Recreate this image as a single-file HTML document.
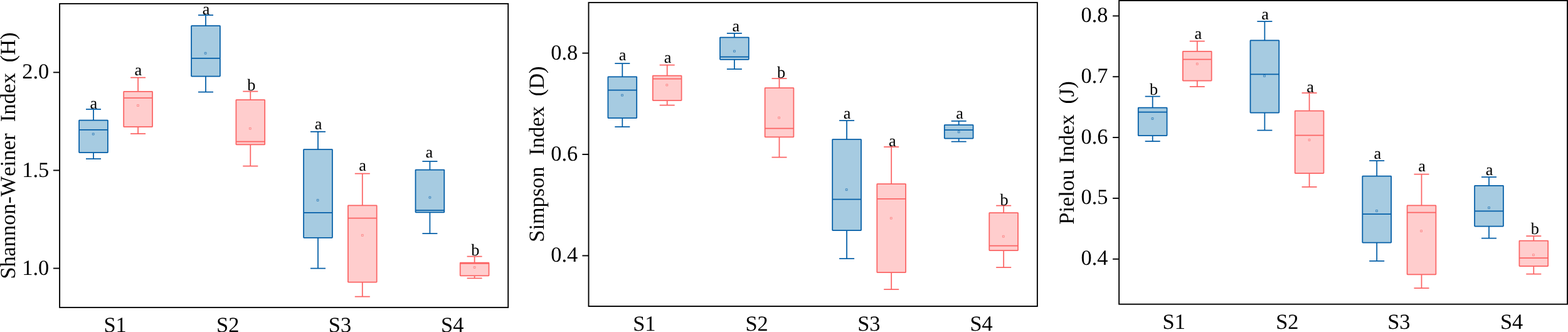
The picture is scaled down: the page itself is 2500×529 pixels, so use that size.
<!DOCTYPE html>
<html lang="en">
<head>
<meta charset="utf-8">
<title>Diversity indices box plots</title>
<style>
html,body{margin:0;padding:0;background:#fff;}
body{width:2500px;height:529px;overflow:hidden;}
svg{display:block;font-family:"Liberation Serif",serif;fill:#000;text-rendering:geometricPrecision;}
.tk{font-size:34.4px;}
.lb{font-size:34.3px;font-kerning:none;}
.an{font-size:26.3px;text-anchor:middle;}
path,rect{stroke-linejoin:round;}
.fr{fill:none;stroke-linejoin:miter;stroke:#000;stroke-width:1.9;}
.b{stroke:#035ea7;stroke-width:1.75;fill:none;}
.bf{stroke:#035ea7;stroke-width:1.75;fill:#a6cbe1;}
.r{stroke:#fb6464;stroke-width:1.75;fill:none;}
.rf{stroke:#fb6464;stroke-width:1.75;fill:#ffcdcd;}
.bm{stroke:#035ea7;stroke-width:0.6;fill:none;}
.rm{stroke:#fb6464;stroke-width:0.6;fill:none;}
</style>
</head>
<body>
<svg width="2500" height="529" viewBox="0 0 2500 529">
<rect x="0" y="0" width="2500" height="529" fill="#fff" stroke="none"/>

<g id="panel1">
<path class="b" d="M149 174.1V191.7M149 243V253M137 174.1H161M137 253H161"/>
<rect class="bf" x="126.1" y="191.7" width="45.8" height="51.3" rx="0.6"/>
<path class="b" d="M126.1 206.8H171.9"/>
<rect class="bm" x="147.3" y="212.2" width="2.8" height="2.8"/>
<text class="an" x="149.3" y="172.5">a</text>
<path class="r" d="M220.1 123.6V145.8M220.1 202.2V213M208.1 123.6H232.1M208.1 213H232.1"/>
<rect class="rf" x="197.2" y="145.8" width="45.8" height="56.4" rx="0.6"/>
<path class="r" d="M197.2 156.2H243"/>
<rect class="rm" x="218.6" y="166.7" width="2.8" height="2.8"/>
<text class="an" x="220.4" y="120.1">a</text>
<path class="b" d="M328 24V41M328 121.6V146.7M316 24H340M316 146.7H340"/>
<rect class="bf" x="305.1" y="41" width="45.8" height="80.6" rx="0.6"/>
<path class="b" d="M305.1 92.8H350.9"/>
<rect class="bm" x="326.2" y="83.4" width="2.8" height="2.8"/>
<text class="an" x="328.7" y="22.5">a</text>
<path class="r" d="M399.3 145.5V159.1M399.3 230.4V264.5M387.3 145.5H411.3M387.3 264.5H411.3"/>
<rect class="rf" x="376.4" y="159.1" width="45.8" height="71.3" rx="0.6"/>
<path class="r" d="M376.4 225.6H422.2"/>
<rect class="rm" x="397.4" y="203.4" width="2.8" height="2.8"/>
<text class="an" x="400.8" y="143.5">b</text>
<path class="b" d="M507 209.8V238M507 378.8V427.5M495 209.8H519M495 427.5H519"/>
<rect class="bf" x="484.1" y="238" width="45.8" height="140.8" rx="0.6"/>
<path class="b" d="M484.1 338.9H529.9"/>
<rect class="bm" x="505.2" y="317.6" width="2.8" height="2.8"/>
<text class="an" x="507.6" y="206.1">a</text>
<path class="r" d="M577.8 276.7V327.4M577.8 449.5V472.7M565.8 276.7H589.8M565.8 472.7H589.8"/>
<rect class="rf" x="554.9" y="327.4" width="45.8" height="122.1" rx="0.6"/>
<path class="r" d="M554.9 347.7H600.7"/>
<rect class="rm" x="576.4" y="373.5" width="2.8" height="2.8"/>
<text class="an" x="578.2" y="271.6">a</text>
<path class="b" d="M685.4 257.1V270.5M685.4 338.4V372.1M673.4 257.1H697.4M673.4 372.1H697.4"/>
<rect class="bf" x="662.5" y="270.5" width="45.8" height="67.9" rx="0.6"/>
<path class="b" d="M662.5 335.1H708.3"/>
<rect class="bm" x="684" y="313.2" width="2.8" height="2.8"/>
<text class="an" x="684.4" y="250.5">a</text>
<path class="r" d="M756.6 408.6V418.5M756.6 439.4V443.4M744.6 408.6H768.6M744.6 443.4H768.6"/>
<rect class="rf" x="733.7" y="418.5" width="45.8" height="20.9" rx="0.6"/>
<path class="r" d="M733.7 419.9H779.5"/>
<rect class="rm" x="755.2" y="424.6" width="2.8" height="2.8"/>
<text class="an" x="757.9" y="407.2">b</text>
<rect class="fr" x="95.1" y="5.9" width="715.1" height="484"/>
<path class="fr" d="M85 115.35H95.1"/>
<text class="tk" text-anchor="end" x="78.3" y="125.45">2.0</text>
<path class="fr" d="M85 271.45H95.1"/>
<text class="tk" text-anchor="end" x="78.3" y="281.55">1.5</text>
<path class="fr" d="M85 427.55H95.1"/>
<text class="tk" text-anchor="end" x="78.3" y="437.65">1.0</text>
<text class="tk" text-anchor="middle" x="183.6" y="528.7">S1</text>
<text class="tk" text-anchor="middle" x="363.2" y="528.7">S2</text>
<text class="tk" text-anchor="middle" x="542" y="528.7">S3</text>
<text class="tk" text-anchor="middle" x="721.2" y="528.7">S4</text>
<text class="lb" text-anchor="middle" transform="translate(24 248.1) rotate(-90)">Shannon-Weiner <tspan dx="9.5">Index</tspan> <tspan dx="8.3">(H)</tspan></text>
</g>
<g id="panel2">
<path class="b" d="M992.3 101.2V122.4M992.3 188.2V202.2M980.3 101.2H1004.3M980.3 202.2H1004.3"/>
<rect class="bf" x="969.4" y="122.4" width="45.8" height="65.8" rx="0.6"/>
<path class="b" d="M969.4 143.5H1015.2"/>
<rect class="bm" x="990.6" y="150.3" width="2.8" height="2.8"/>
<text class="an" x="992.5" y="95.9">a</text>
<path class="r" d="M1063.7 103.6V120.6M1063.7 160.1V167.5M1051.7 103.6H1075.7M1051.7 167.5H1075.7"/>
<rect class="rf" x="1040.8" y="120.6" width="45.8" height="39.5" rx="0.6"/>
<path class="r" d="M1040.8 125.6H1086.6"/>
<rect class="rm" x="1061.9" y="134.1" width="2.8" height="2.8"/>
<text class="an" x="1064.5" y="100.1">a</text>
<path class="b" d="M1170.9 53.1V59.5M1170.9 94.8V110M1158.9 53.1H1182.9M1158.9 110H1182.9"/>
<rect class="bf" x="1148" y="59.5" width="45.8" height="35.3" rx="0.6"/>
<path class="b" d="M1148 90.6H1193.8"/>
<rect class="bm" x="1169.5" y="80.2" width="2.8" height="2.8"/>
<text class="an" x="1173.3" y="49.6">a</text>
<path class="r" d="M1242.5 125V140.1M1242.5 218.4V250.7M1230.5 125H1254.5M1230.5 250.7H1254.5"/>
<rect class="rf" x="1219.6" y="140.1" width="45.8" height="78.3" rx="0.6"/>
<path class="r" d="M1219.6 204.6H1265.4"/>
<rect class="rm" x="1240.7" y="186.2" width="2.8" height="2.8"/>
<text class="an" x="1245.5" y="124.1">b</text>
<path class="b" d="M1350.1 192.2V222M1350.1 367.1V412.2M1338.1 192.2H1362.1M1338.1 412.2H1362.1"/>
<rect class="bf" x="1327.2" y="222" width="45.8" height="145.1" rx="0.6"/>
<path class="b" d="M1327.2 317.5H1373"/>
<rect class="bm" x="1348.3" y="300.8" width="2.8" height="2.8"/>
<text class="an" x="1350.7" y="189.3">a</text>
<path class="r" d="M1421.2 234V293.2M1421.2 434V461.1M1409.2 234H1433.2M1409.2 461.1H1433.2"/>
<rect class="rf" x="1398.3" y="293.2" width="45.8" height="140.8" rx="0.6"/>
<path class="r" d="M1398.3 316.8H1444.1"/>
<rect class="rm" x="1419.4" y="346.3" width="2.8" height="2.8"/>
<text class="an" x="1422.8" y="232.5">a</text>
<path class="b" d="M1528.7 192.8V199.2M1528.7 220.6V225.6M1516.7 192.8H1540.7M1516.7 225.6H1540.7"/>
<rect class="bf" x="1505.8" y="199.2" width="45.8" height="21.4" rx="0.6"/>
<path class="b" d="M1505.8 207H1551.6"/>
<rect class="bm" x="1527.3" y="208.8" width="2.8" height="2.8"/>
<text class="an" x="1530" y="188.9">a</text>
<path class="r" d="M1600.2 327.6V339M1600.2 399.2V426M1588.2 327.6H1612.2M1588.2 426H1612.2"/>
<rect class="rf" x="1577.3" y="339" width="45.8" height="60.2" rx="0.6"/>
<path class="r" d="M1577.3 391.7H1623.1"/>
<rect class="rm" x="1598.4" y="375.3" width="2.8" height="2.8"/>
<text class="an" x="1601.2" y="326.5">b</text>
<rect class="fr" x="938.5" y="4.1" width="715.4" height="483.9"/>
<path class="fr" d="M928.4 84.65H938.5"/>
<text class="tk" text-anchor="end" x="921.2" y="94.6">0.8</text>
<path class="fr" d="M928.4 246H938.5"/>
<text class="tk" text-anchor="end" x="921.2" y="256.15">0.6</text>
<path class="fr" d="M928.4 407.4H938.5"/>
<text class="tk" text-anchor="end" x="921.2" y="416.95">0.4</text>
<text class="tk" text-anchor="middle" x="1027.3" y="526.6">S1</text>
<text class="tk" text-anchor="middle" x="1206.6" y="526.6">S2</text>
<text class="tk" text-anchor="middle" x="1385.3" y="526.6">S3</text>
<text class="tk" text-anchor="middle" x="1564.6" y="526.6">S4</text>
<text class="lb" text-anchor="middle" transform="translate(867.3 245.6) rotate(-90)">Simpson <tspan dx="9.5">Index</tspan> <tspan dx="7.7">(D)</tspan></text>
</g>
<g id="panel3">
<path class="b" d="M1837.7 153.5V171.7M1837.7 216V225M1825.7 153.5H1849.7M1825.7 225H1849.7"/>
<rect class="bf" x="1814.8" y="171.7" width="45.8" height="44.3" rx="0.6"/>
<path class="b" d="M1814.8 178.5H1860.6"/>
<rect class="bm" x="1836.1" y="187.6" width="2.8" height="2.8"/>
<text class="an" x="1839.7" y="151.4">b</text>
<path class="r" d="M1908.8 65.7V81.8M1908.8 128.6V138M1896.8 65.7H1920.8M1896.8 138H1920.8"/>
<rect class="rf" x="1885.9" y="81.8" width="45.8" height="46.8" rx="0.6"/>
<path class="r" d="M1885.9 94.6H1931.7"/>
<rect class="rm" x="1907.4" y="100.4" width="2.8" height="2.8"/>
<text class="an" x="1910.4" y="62.2">a</text>
<path class="b" d="M2016.4 34.1V64.3M2016.4 179.7V207.6M2004.4 34.1H2028.4M2004.4 207.6H2028.4"/>
<rect class="bf" x="1993.5" y="64.3" width="45.8" height="115.4" rx="0.6"/>
<path class="b" d="M1993.5 118.4H2039.3"/>
<rect class="bm" x="2014.6" y="119.6" width="2.8" height="2.8"/>
<text class="an" x="2017" y="31">a</text>
<path class="r" d="M2087.6 148.1V176.7M2087.6 276.1V297.8M2075.6 148.1H2099.6M2075.6 297.8H2099.6"/>
<rect class="rf" x="2064.7" y="176.7" width="45.8" height="99.4" rx="0.6"/>
<path class="r" d="M2064.7 215.6H2110.5"/>
<rect class="rm" x="2086.2" y="221.6" width="2.8" height="2.8"/>
<text class="an" x="2089.2" y="147.2">a</text>
<path class="b" d="M2195.2 256.1V280.7M2195.2 386.5V415.8M2183.2 256.1H2207.2M2183.2 415.8H2207.2"/>
<rect class="bf" x="2172.3" y="280.7" width="45.8" height="105.8" rx="0.6"/>
<path class="b" d="M2172.3 341H2218.1"/>
<rect class="bm" x="2193.6" y="334.6" width="2.8" height="2.8"/>
<text class="an" x="2196.4" y="252.5">a</text>
<path class="r" d="M2266.5 277.5V327.4M2266.5 437.4V459M2254.5 277.5H2278.5M2254.5 459H2278.5"/>
<rect class="rf" x="2243.6" y="327.4" width="45.8" height="110" rx="0.6"/>
<path class="r" d="M2243.6 338.6H2289.4"/>
<rect class="rm" x="2264.7" y="366.7" width="2.8" height="2.8"/>
<text class="an" x="2267.1" y="273.2">a</text>
<path class="b" d="M2374 282.1V295.8M2374 360.5V379.7M2362 282.1H2386M2362 379.7H2386"/>
<rect class="bf" x="2351.1" y="295.8" width="45.8" height="64.7" rx="0.6"/>
<path class="b" d="M2351.1 336.4H2396.9"/>
<rect class="bm" x="2372.6" y="329.6" width="2.8" height="2.8"/>
<text class="an" x="2374.7" y="278.6">a</text>
<path class="r" d="M2445.3 376.1V383.7M2445.3 424V436.6M2433.3 376.1H2457.3M2433.3 436.6H2457.3"/>
<rect class="rf" x="2422.4" y="383.7" width="45.8" height="40.3" rx="0.6"/>
<path class="r" d="M2422.4 411.2H2468.2"/>
<rect class="rm" x="2443.5" y="404.8" width="2.8" height="2.8"/>
<text class="an" x="2447.3" y="373">b</text>
<rect class="fr" x="1784.2" y="0.9" width="714.8" height="483.8"/>
<path class="fr" d="M1774.1 25.4H1784.2"/>
<text class="tk" text-anchor="end" x="1766.5" y="35.15">0.8</text>
<path class="fr" d="M1774.1 122.24H1784.2"/>
<text class="tk" text-anchor="end" x="1766.5" y="131.9">0.7</text>
<path class="fr" d="M1774.1 219.08H1784.2"/>
<text class="tk" text-anchor="end" x="1766.5" y="228.65">0.6</text>
<path class="fr" d="M1774.1 315.9H1784.2"/>
<text class="tk" text-anchor="end" x="1766.5" y="325.4">0.5</text>
<path class="fr" d="M1774.1 412.75H1784.2"/>
<text class="tk" text-anchor="end" x="1766.5" y="422.15">0.4</text>
<text class="tk" text-anchor="middle" x="1871.7" y="524.3">S1</text>
<text class="tk" text-anchor="middle" x="2052.3" y="524.3">S2</text>
<text class="tk" text-anchor="middle" x="2230.4" y="524.3">S3</text>
<text class="tk" text-anchor="middle" x="2410.1" y="524.3">S4</text>
<text class="lb" text-anchor="middle" transform="translate(1712.4 243.5) rotate(-90)">Pielou <tspan dx="0.9">Index</tspan> <tspan dx="8.3">(J)</tspan></text>
</g>
</svg>
</body>
</html>
